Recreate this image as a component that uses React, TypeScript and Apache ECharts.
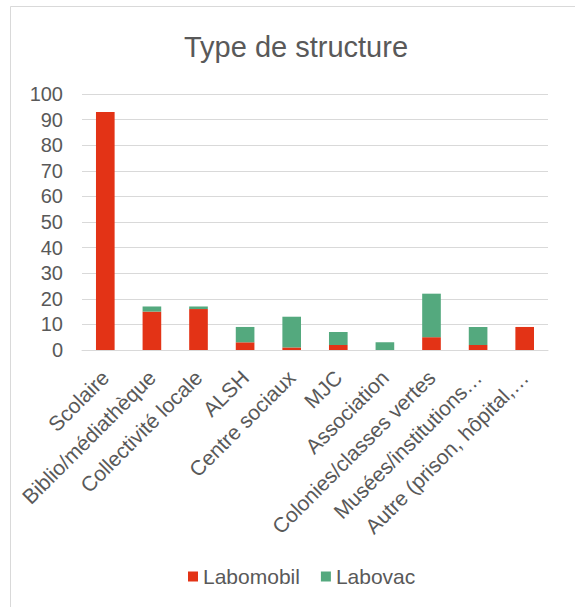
import React, { useEffect, useRef } from "react";
import * as echarts from "echarts";

const categories = [
  "Scolaire",
  "Biblio/médiathèque",
  "Collectivité locale",
  "ALSH",
  "Centre sociaux",
  "MJC",
  "Association",
  "Colonies/classes vertes",
  "Musées/institutions…",
  "Autre (prison, hôpital,…",
];
const labomobil = [93, 15, 16, 3, 1, 2, 0, 5, 2, 9];
const labovac = [0, 2, 1, 6, 12, 5, 3, 17, 7, 0];
const yTicks = { min: 0, max: 100, interval: 10 };

const FONT = "Liberation Sans";
const TXT = "#595959";

export default function App() {
  const ref = useRef<HTMLDivElement>(null);
  useEffect(() => {
    if (!ref.current) return;
    const chart = echarts.init(ref.current, null, { renderer: "svg" });
    chart.setOption({
      animation: false,
      backgroundColor: "#ffffff",
      textStyle: { fontFamily: FONT, color: TXT },
      title: {
        text: "Type de structure",
        left: 291,
        textAlign: "center",
        top: 27,
        textStyle: { fontFamily: FONT, fontSize: 29, fontWeight: "normal", color: TXT },
      },
      graphic: [
        {
          type: "rect",
          shape: { x: 10.5, y: 6.5, width: 600, height: 700 },
          style: { fill: "none", stroke: "#d9d9d9", lineWidth: 1 },
          silent: true,
        },
      ],
      legend: {
        top: 561,
        left: 183,
        itemWidth: 10,
        itemHeight: 10,
        itemGap: 21,
        icon: "rect",
        textStyle: { fontFamily: FONT, fontSize: 21, color: TXT },
        data: ["Labomobil", "Labovac"],
      },
      grid: { left: 82, right: 27, top: 94, bottom: 257, containLabel: false },
      xAxis: {
        type: "category",
        data: categories,
        axisLine: { lineStyle: { color: "#d9d9d9", width: 1 } },
        axisTick: { show: false },
        axisLabel: {
          rotate: 45,
          interval: 0,
          fontFamily: FONT,
          fontSize: 21,
          color: TXT,
          margin: 24,
        },
      },
      yAxis: {
        type: "value",
        min: yTicks.min,
        max: yTicks.max,
        interval: yTicks.interval,
        axisLine: { show: false },
        axisTick: { show: false },
        splitLine: { lineStyle: { color: "#d9d9d9", width: 1 } },
        axisLabel: { fontFamily: FONT, fontSize: 20, color: TXT, margin: 19 },
      },
      series: [
        {
          name: "Labomobil",
          type: "bar",
          stack: "total",
          data: labomobil,
          barWidth: "40%",
          itemStyle: { color: "#E33316" },
        },
        {
          name: "Labovac",
          type: "bar",
          stack: "total",
          data: labovac,
          barWidth: "40%",
          itemStyle: { color: "#54A97E" },
        },
      ],
    });
    return () => chart.dispose();
  }, []);
  return (
    <div
      ref={ref}
      style={{ position: "fixed", left: 0, top: 0, width: 575, height: 607 }}
    />
  );
}
